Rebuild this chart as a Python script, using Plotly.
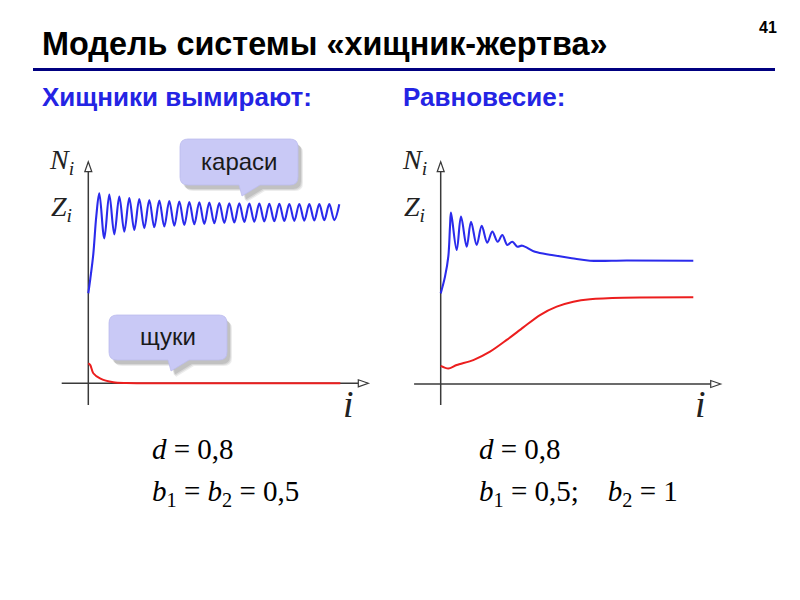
import plotly.graph_objects as go

# ---------------- data ----------------
# left panel: predators die out (d = 0.8, b1 = b2 = 0.5)
left_prey_i = [0, 2, 5, 8, 11, 16, 21, 26, 31, 36, 41, 46, 51, 56, 61, 66, 71, 76, 81, 86,
               91, 96, 101, 106, 111, 116, 121, 126, 131, 136, 141, 146, 151, 156, 161, 166,
               171, 176, 181, 186, 191, 196, 201, 206, 211, 216, 221, 226, 231, 236, 241, 246, 251]
left_prey_v = [47.4, 55.0, 68.0, 88.0, 100.0, 76.3, 99.4, 78.4, 98.3, 79.8, 97.5, 80.7, 97.0, 81.6,
               96.5, 82.1, 96.2, 82.5, 95.9, 82.9, 95.7, 83.3, 95.4, 83.7, 95.3, 83.9, 95.1, 84.2,
               94.9, 84.4, 94.8, 84.6, 94.7, 84.9, 94.6, 85.0, 94.6, 85.2, 94.5, 85.3, 94.5, 85.4,
               94.4, 85.5, 94.4, 85.6, 94.3, 85.7, 94.3, 85.8, 94.3, 85.9, 94.2]
left_pred_i = [0, 2, 5, 11.7, 25, 38, 80, 150, 252]
left_pred_v = [10.5, 9.6, 5.3, 2.6, 0.5, 0.1, 0.0, 0.0, 0.0]

# right panel: equilibrium (d = 0.8, b1 = 0.5, b2 = 1)
right_prey_i = [0, 4.3, 7.6, 9.3, 10.3, 16, 20.3, 26, 30.3, 36, 41, 46.6, 51.6, 57, 61.6,
                66.6, 71.6, 76.6, 81.6, 94.3, 111, 131, 149.3, 186, 252.6]
right_prey_v = [47.7, 56.5, 67.0, 82.8, 90.2, 70.5, 88.1, 72.3, 85.4, 73.2, 83.2, 74.4, 80.2,
                74.9, 78.4, 73.2, 74.9, 72.3, 72.8, 69.6, 67.9, 66.2, 64.9, 65.0, 64.9]
right_pred_i = [0, 7.6, 16, 32.6, 49.3, 66, 82.6, 99.3, 116, 132.6, 149.3, 182.6, 252.6]
right_pred_v = [9.5, 8.1, 10.0, 12.6, 17.0, 23.2, 29.8, 36.3, 40.7, 43.3, 44.6, 45.4, 45.6]

title_text = "Модель системы «хищник-жертва»"
left_caption = "Хищники вымирают:"
right_caption = "Равновесие:"
page_number = "41"
prey_label = "караси"
pred_label = "щуки"

# ---------------- geometry ----------------
W, H = 800, 600
SX, SY = 1.0, 1.9          # pixels per unit
XR = [-30, 285]
YR = [-14, 120]
panels = [dict(x0=88.3, y0=383.3), dict(x0=440.7, y0=384.0)]

BLUE = "#2b2bec"
RED = "#ec1e1e"
AX = "#3a3a3a"


def fx(p):
    return p / W


def fy(p):
    return 1 - p / H


fig = go.Figure()

axes_names = [("x", "y"), ("x2", "y2")]
series = [(left_prey_i, left_prey_v, left_pred_i, left_pred_v),
          (right_prey_i, right_prey_v, right_pred_i, right_pred_v)]

shapes = []
annotations = []
serif = "Liberation Serif, Times New Roman, serif"
sans = "Liberation Sans, Arial, sans-serif"

for k, (pan, (xa, ya), ser) in enumerate(zip(panels, axes_names, series)):
    x0, y0 = pan["x0"], pan["y0"]
    xdom = [fx(x0 + XR[0] * SX), fx(x0 + XR[1] * SX)]
    ydom = [fy(y0 - YR[0] * SY), fy(y0 - YR[1] * SY)]
    lname_x = "xaxis" if k == 0 else "xaxis2"
    lname_y = "yaxis" if k == 0 else "yaxis2"
    fig.update_layout(**{
        lname_x: dict(domain=xdom, range=XR, visible=False, fixedrange=True, anchor=ya),
        lname_y: dict(domain=ydom, range=YR, visible=False, fixedrange=True, anchor=xa),
    })

    # axis lines (pixel geometry)
    top, bottom = 161.7, 405.0
    left_end, right_end = x0 - 26.6, x0 + 280.0
    shapes.append(dict(type="line", xref="paper", yref="paper",
                       x0=fx(x0), x1=fx(x0), y0=fy(bottom), y1=fy(top + 1),
                       line=dict(color=AX, width=1.5), layer="below"))
    shapes.append(dict(type="line", xref="paper", yref="paper",
                       x0=fx(left_end), x1=fx(right_end - 1), y0=fy(y0), y1=fy(y0),
                       line=dict(color=AX, width=1.5), layer="below"))
    # open arrow heads
    shapes.append(dict(type="path", xref="paper", yref="paper",
                       path=f"M {fx(x0)} {fy(top)} L {fx(x0 - 3.5)} {fy(top + 10)} L {fx(x0 + 3.5)} {fy(top + 10)} Z",
                       line=dict(color=AX, width=1.2), fillcolor="white", layer="above"))
    shapes.append(dict(type="path", xref="paper", yref="paper",
                       path=f"M {fx(right_end)} {fy(y0)} L {fx(right_end - 10)} {fy(y0 - 3.5)} L {fx(right_end - 10)} {fy(y0 + 3.5)} Z",
                       line=dict(color=AX, width=1.2), fillcolor="white", layer="above"))

    pi, pv, qi, qv = ser
    fig.add_trace(go.Scatter(x=pi, y=pv, mode="lines", xaxis=xa, yaxis=ya,
                             line=dict(color=BLUE, width=2.1, shape="spline", smoothing=1.0),
                             hoverinfo="skip", showlegend=False))
    fig.add_trace(go.Scatter(x=qi, y=qv, mode="lines", xaxis=xa, yaxis=ya,
                             line=dict(color=RED, width=2.0, shape="spline", smoothing=0.8),
                             hoverinfo="skip", showlegend=False))

    # axis labels N_i, Z_i and i
    annotations.append(dict(xref="paper", yref="paper", x=fx(x0 - 12), y=fy(161),
                            text="<i>N</i><sub><i>i</i></sub>", showarrow=False,
                            xanchor="right", yanchor="middle",
                            font=dict(family=serif, size=28, color="#222")))
    annotations.append(dict(xref="paper", yref="paper", x=fx(x0 - 14), y=fy(208),
                            text="<i>Z</i><sub><i>i</i></sub>", showarrow=False,
                            xanchor="right", yanchor="middle",
                            font=dict(family=serif, size=28, color="#222")))
    annotations.append(dict(xref="paper", yref="paper", x=fx(x0 + 260), y=fy(404),
                            text="<i>i</i>", showarrow=False,
                            xanchor="center", yanchor="middle",
                            font=dict(family=serif, size=38, color="#222")))


# callouts
def callout(x0, y0, x1, y1, r, dx=0, dy=0):
    x0, x1, y0, y1 = x0 + dx, x1 + dx, y0 + dy, y1 + dy
    ta, tb = x0 + 59, x0 + 80
    apex = (x0 + 62, y1 + 11)
    pts = [
        f"M {fx(x0 + r)} {fy(y0)}",
        f"L {fx(x1 - r)} {fy(y0)}",
        f"Q {fx(x1)} {fy(y0)} {fx(x1)} {fy(y0 + r)}",
        f"L {fx(x1)} {fy(y1 - r)}",
        f"Q {fx(x1)} {fy(y1)} {fx(x1 - r)} {fy(y1)}",
        f"L {fx(tb)} {fy(y1)}",
        f"L {fx(apex[0])} {fy(apex[1])}",
        f"L {fx(ta)} {fy(y1)}",
        f"L {fx(x0 + r)} {fy(y1)}",
        f"Q {fx(x0)} {fy(y1)} {fx(x0)} {fy(y1 - r)}",
        f"L {fx(x0)} {fy(y0 + r)}",
        f"Q {fx(x0)} {fy(y0)} {fx(x0 + r)} {fy(y0)}",
        "Z",
    ]
    return " ".join(pts)


boxes = [((180, 139, 298, 185), prey_label), ((109, 315, 227, 360), pred_label)]
for (bx0, by0, bx1, by1), lab in boxes:
    for off, alpha in [((5, 6), 0.07), ((4, 5), 0.09), ((3, 4), 0.1)]:
        shapes.append(dict(type="path", xref="paper", yref="paper",
                           path=callout(bx0, by0, bx1, by1, 8, *off),
                           fillcolor=f"rgba(0,0,0,{alpha})", line=dict(width=0), layer="above"))
    shapes.append(dict(type="path", xref="paper", yref="paper",
                       path=callout(bx0, by0, bx1, by1, 8),
                       fillcolor="#c9c9f6", line=dict(color="#bcbcee", width=0.8), layer="above"))
    annotations.append(dict(xref="paper", yref="paper", x=fx((bx0 + bx1) / 2), y=fy((by0 + by1) / 2 - 1),
                            text=lab, showarrow=False, xanchor="center", yanchor="middle",
                            font=dict(family=sans, size=24, color="#1a1a1a")))

# title, rule, captions, page number
annotations.append(dict(xref="paper", yref="paper", x=fx(40), y=fy(44), text=f"<b>{title_text}</b>",
                        showarrow=False, xanchor="left", yanchor="middle",
                        font=dict(family=sans, size=32.4, color="black")))
annotations.append(dict(xref="paper", yref="paper", x=fx(779), y=fy(27), text=f"<b>{page_number}</b>",
                        showarrow=False, xanchor="right", yanchor="middle",
                        font=dict(family=sans, size=16, color="black")))
annotations.append(dict(xref="paper", yref="paper", x=fx(40), y=fy(97), text=f"<b>{left_caption}</b>",
                        showarrow=False, xanchor="left", yanchor="middle",
                        font=dict(family=sans, size=26, color="#2424e4")))
annotations.append(dict(xref="paper", yref="paper", x=fx(401), y=fy(97), text=f"<b>{right_caption}</b>",
                        showarrow=False, xanchor="left", yanchor="middle",
                        font=dict(family=sans, size=26, color="#2424e4")))
shapes.append(dict(type="line", xref="paper", yref="paper", x0=fx(33), x1=fx(775), y0=fy(69.5), y1=fy(69.5),
                   line=dict(color="#000080", width=3.2)))

# formulas
sp = "\u00a0"
formulas = [
    (150, 449, f"<i>d</i>{sp}={sp}0,8"),
    (150, 493, f"<i>b</i><sub>1</sub>{sp}={sp}<i>b</i><sub>2</sub>{sp}={sp}0,5"),
    (477, 449, f"<i>d</i>{sp}={sp}0,8"),
    (477, 493, f"<i>b</i><sub>1</sub>{sp}={sp}0,5;{sp * 4}<i>b</i><sub>2</sub>{sp}={sp}1"),
]
for x, y, t in formulas:
    annotations.append(dict(xref="paper", yref="paper", x=fx(x), y=fy(y), text=t, showarrow=False,
                            xanchor="left", yanchor="middle",
                            font=dict(family=serif, size=29, color="black")))

fig.update_layout(width=W, height=H, margin=dict(l=0, r=0, t=0, b=0, pad=0),
                  paper_bgcolor="white", plot_bgcolor="rgba(0,0,0,0)",
                  shapes=shapes, annotations=annotations, showlegend=False)

fig.write_html("out.html", config=dict(displayModeBar=False),
               post_script="document.body.style.margin='0';")
